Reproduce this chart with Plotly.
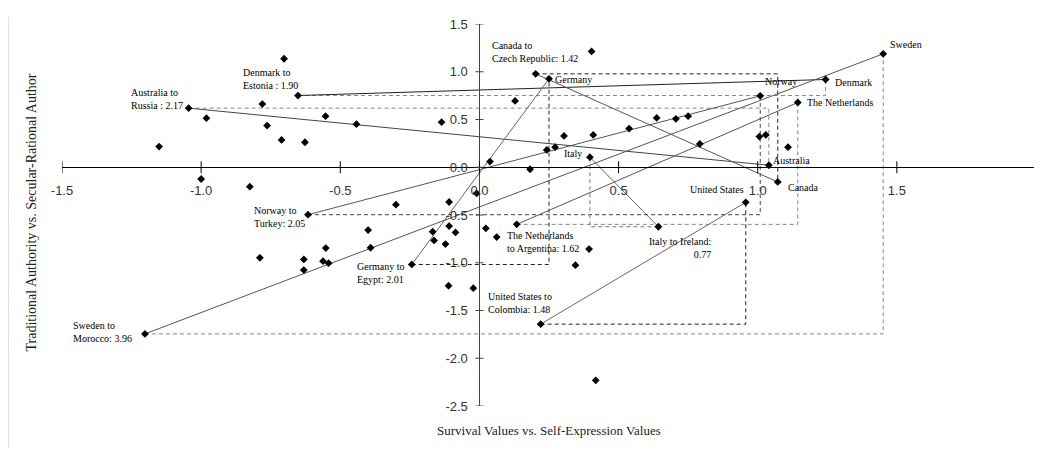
import plotly.graph_objects as go

# ---- data ----
other_x = [-1.151, -0.981, -0.702, -0.780, -0.763, -0.711, -0.627, -0.553, -1.000, -0.825,
           -0.789, -0.631, -0.631, -0.552, -0.562, -0.542, -0.442, -0.136, 0.128, 0.038,
           0.242, 0.272, 0.304, 0.182, 0.403, 0.409, 0.538, 0.637, 0.706, 0.750,
           0.792, 1.006, 1.029, 1.109, -0.010, -0.300, -0.109, -0.400, -0.391, -0.168,
           -0.109, -0.086, -0.163, -0.122, -0.111, -0.022, 0.023, 0.062, 0.345, 0.394,
           0.418]
other_y = [0.216, 0.514, 1.136, 0.661, 0.436, 0.286, 0.262, 0.535, -0.123, -0.203,
           -0.948, -0.965, -1.077, -0.846, -0.983, -1.004, 0.451, 0.472, 0.695, 0.059,
           0.181, 0.210, 0.328, -0.021, 1.213, 0.339, 0.405, 0.517, 0.507, 0.535,
           0.244, 0.321, 0.339, 0.210, -0.273, -0.392, -0.364, -0.658, -0.843, -0.675,
           -0.616, -0.682, -0.766, -0.804, -1.241, -1.266, -0.640, -0.731, -1.025, -0.857,
           -2.231]

from_names = ["Australia", "Denmark", "Canada", "Germany", "Norway", "Sweden",
              "The Netherlands", "Italy", "United States"]
from_x = [1.040, 1.244, 1.072, 0.250, 1.009, 1.451, 1.144, 0.397, 0.957]
from_y = [0.021, 0.919, -0.154, 0.926, 0.748, 1.188, 0.678, 0.105, -0.367]

to_names = ["Russia", "Estonia", "Czech Republic", "Egypt", "Turkey", "Morocco",
            "Argentina", "Ireland", "Colombia"]
to_x = [-1.045, -0.652, 0.202, -0.243, -0.616, -1.202, 0.134, 0.643, 0.220]
to_y = [0.619, 0.751, 0.978, -1.018, -0.497, -1.745, -0.598, -0.623, -1.643]

pair_labels = ["Australia to<br>Russia : 2.17", "Denmark to<br>Estonia : 1.90",
               "Canada to<br>Czech Republic: 1.42", "Germany to<br>Egypt: 2.01",
               "Norway to<br>Turkey: 2.05", "Sweden to<br>Morocco: 3.96",
               "The Netherlands<br>to Argentina: 1.62", "Italy to Ireland:<br>0.77",
               "United States to<br>Colombia: 1.48"]

x_ticks = [-1.5, -1.0, -0.5, 0.0, 0.5, 1.0, 1.5, 2.0]
x_tick_text = ["-1.5", "-1.0", "-0.5", "0.0", "0.5", "1.0", "1.5", "2.0"]
y_ticks = [1.5, 1.0, 0.5, 0.0, -0.5, -1.0, -1.5, -2.0, -2.5]
y_tick_text = ["1.5", "1.0", "0.5", "0.0", "-0.5", "-1.0", "-1.5", "-2.0", "-2.5"]

x_title = "Survival Values vs. Self-Expression Values"
y_title = "Traditional Authority vs. Secular-Rational Author"

# ---- styling / layout positions ----
dash_colors = ["#888", "#888", "#222", "#222", "#444", "#888", "#888", "#777", "#222"]
line_colors = ["#444", "#222", "#555", "#666", "#555", "#555", "#555", "#666", "#666"]
# label anchor positions (data coords) and alignment for the pair labels
pair_label_pos = [(-1.259, 0.714, "left"), (-0.858, 0.923, "left"), (0.038, 1.206, "left"),
                  (-0.448, -1.109, "left"), (-0.818, -0.518, "left"), (-1.466, -1.724, "left"),
                  (0.092, -0.785, "left"), (0.840, -0.843, "right"), (0.023, -1.423, "left")]
# name labels of the "from" countries
name_label_pos = [(1.048, 0.069), (1.272, 0.891), (1.102, -0.214), (0.263, 0.919),
                  (1.019, 0.895), (1.468, 1.290), (1.170, 0.678), (0.298, 0.147),
                  (0.958, -0.235)]
name_anchor = ["left", "left", "left", "left", "left", "left", "left", "left", "right"]

SERIF = "Liberation Serif"
SANS = "Liberation Sans"

fig = go.Figure()

# dashed L-shaped legs
for i in range(len(from_x)):
    fig.add_trace(go.Scatter(
        x=[to_x[i], from_x[i], from_x[i]], y=[to_y[i], to_y[i], from_y[i]],
        mode="lines", line=dict(color=dash_colors[i], width=1, dash="4px,3px"),
        hoverinfo="skip", showlegend=False))

# solid connecting lines
for i in range(len(from_x)):
    fig.add_trace(go.Scatter(
        x=[from_x[i], to_x[i]], y=[from_y[i], to_y[i]],
        mode="lines", line=dict(color=line_colors[i], width=1),
        hoverinfo="skip", showlegend=False))

# points
fig.add_trace(go.Scatter(
    x=other_x + from_x + to_x, y=other_y + from_y + to_y,
    mode="markers", marker=dict(symbol="diamond", size=6, color="black"),
    showlegend=False, hoverinfo="x+y"))

shapes = []
for t in x_ticks:
    shapes.append(dict(type="line", xref="x", yref="y", x0=t, x1=t,
                       ysizemode="pixel", yanchor=0, y0=-6, y1=6,
                       line=dict(color="black", width=1)))
for t in y_ticks:
    shapes.append(dict(type="line", xref="x", yref="y", y0=t, y1=t,
                       xsizemode="pixel", xanchor=0, x0=-4, x1=4,
                       line=dict(color="#444", width=1)))
# faint left border
shapes.append(dict(type="line", xref="paper", yref="paper", x0=-0.0554, x1=-0.0554,
                   y0=-0.15, y1=1.018, line=dict(color="#c8c8c8", width=1)))

annotations = []
for (lx, ly, al), txt in zip(pair_label_pos, pair_labels):
    annotations.append(dict(x=lx, y=ly, xref="x", yref="y", text=txt, showarrow=False,
                            xanchor=al, yanchor="middle", align=al,
                            font=dict(family=SERIF, size=10, color="black")))
for (lx, ly), nm, an in zip(name_label_pos, from_names, name_anchor):
    annotations.append(dict(x=lx, y=ly, xref="x", yref="y", text=nm, showarrow=False,
                            xanchor=an, yanchor="middle",
                            font=dict(family=SERIF, size=10, color="black")))
annotations.append(dict(x=0.5, y=-0.0654, xref="paper", yref="paper", text=x_title,
                        showarrow=False, xanchor="center", yanchor="middle",
                        font=dict(family=SERIF, size=13, color="#222")))
annotations.append(dict(x=-0.0308, y=0.5065, xref="paper", yref="paper", text=y_title,
                        showarrow=False, xanchor="center", yanchor="middle", textangle=-90,
                        font=dict(family=SERIF, size=14, color="#222")))

# the page body adds an 8px offset; size the figure so the plot area lands where it should
fig.update_layout(
    width=1034, height=440, autosize=False,
    margin=dict(l=54, r=6, t=16, b=42),
    paper_bgcolor="white", plot_bgcolor="white",
    xaxis=dict(range=[-1.5, 2.0], anchor="free", position=2.5 / 4.0,
               showline=True, linecolor="black", linewidth=1, showgrid=False,
               zeroline=False, tickvals=x_ticks, ticktext=x_tick_text,
               ticks="outside", ticklen=11, tickcolor="rgba(0,0,0,0)",
               tickfont=dict(family=SANS, size=13, color="#333"), fixedrange=True),
    yaxis=dict(range=[-2.5, 1.5], anchor="free", position=1.5 / 3.5,
               showline=True, linecolor="#444", linewidth=1, showgrid=False,
               zeroline=False, tickvals=y_ticks, ticktext=y_tick_text,
               ticks="outside", ticklen=9, tickcolor="rgba(0,0,0,0)",
               tickfont=dict(family=SANS, size=13, color="#333"), fixedrange=True),
    shapes=shapes, annotations=annotations,
)

fig.write_html("out.html")
